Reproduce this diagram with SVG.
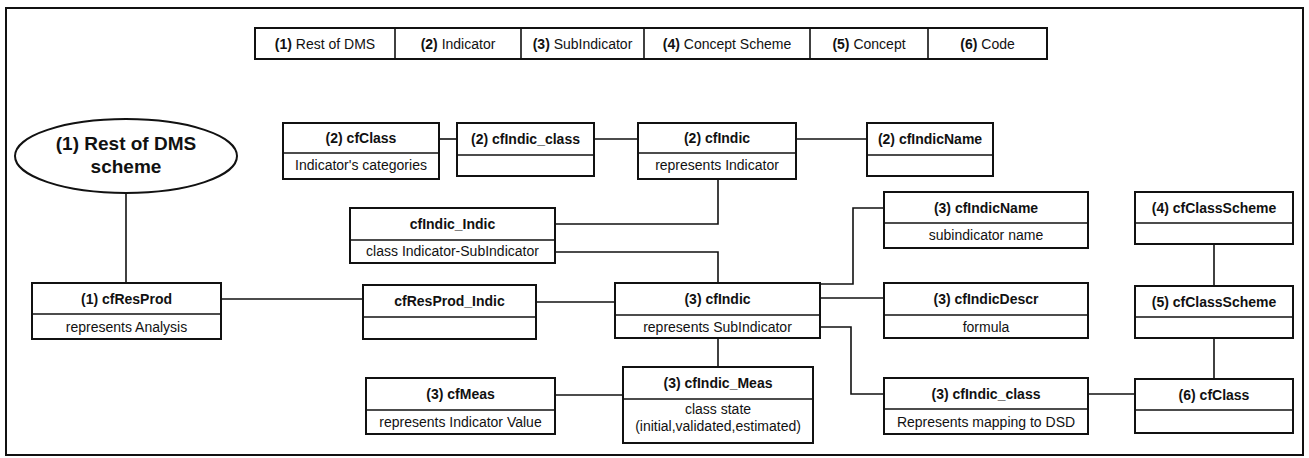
<svg xmlns="http://www.w3.org/2000/svg" width="1309" height="458" viewBox="0 0 1309 458">
<style>
text{font-family:"Liberation Sans",Arial,sans-serif;fill:#111;}
.box{fill:#fff;stroke:#111;stroke-width:2;}
.div{stroke:#111;stroke-width:1.6;}
.t{font-size:14px;font-weight:bold;text-anchor:middle;dominant-baseline:central;}
.b{font-size:14px;text-anchor:middle;dominant-baseline:central;}
.lg{font-size:14px;text-anchor:middle;dominant-baseline:central;}
.c{fill:none;stroke:#111;stroke-width:1.6;}
</style>
<rect x="6" y="8" width="1297" height="447" fill="#fff" stroke="#111" stroke-width="2"/>
<g id="legend">
<rect class="box" x="255" y="28" width="792" height="31"/>
<line class="div" x1="395" y1="28" x2="395" y2="59"/>
<line class="div" x1="521" y1="28" x2="521" y2="59"/>
<line class="div" x1="644" y1="28" x2="644" y2="59"/>
<line class="div" x1="810" y1="28" x2="810" y2="59"/>
<line class="div" x1="928" y1="28" x2="928" y2="59"/>
<text class="lg" x="325" y="44"><tspan font-weight="bold">(1)</tspan> Rest of DMS</text>
<text class="lg" x="458" y="44"><tspan font-weight="bold">(2)</tspan> Indicator</text>
<text class="lg" x="582.5" y="44"><tspan font-weight="bold">(3)</tspan> SubIndicator</text>
<text class="lg" x="727" y="44"><tspan font-weight="bold">(4)</tspan> Concept Scheme</text>
<text class="lg" x="869" y="44"><tspan font-weight="bold">(5)</tspan> Concept</text>
<text class="lg" x="987.5" y="44"><tspan font-weight="bold">(6)</tspan> Code</text>
</g>
<g id="connectors">
<path class="c" d="M126,193 V283"/>
<path class="c" d="M221,299 H363"/>
<path class="c" d="M536,302 H615"/>
<path class="c" d="M439,139 H457"/>
<path class="c" d="M594,139 H638"/>
<path class="c" d="M796,139 H867"/>
<path class="c" d="M718,179 V224 H555"/>
<path class="c" d="M555,252 H718 V283"/>
<path class="c" d="M820,284 H853 V208 H884"/>
<path class="c" d="M820,298 H884"/>
<path class="c" d="M820,327 H851 V394 H884"/>
<path class="c" d="M718,338 V367"/>
<path class="c" d="M555,395 H623"/>
<path class="c" d="M1088,394 H1135"/>
<path class="c" d="M1214,244 V286"/>
<path class="c" d="M1214,338 V379"/>
</g>
<g id="restOfDMS">
<ellipse class="box" cx="126" cy="156" rx="111" ry="37"/>
<text x="126" y="143" font-size="19" font-weight="bold" text-anchor="middle" dominant-baseline="central">(1) Rest of DMS</text>
<text x="126" y="166" font-size="19" font-weight="bold" text-anchor="middle" dominant-baseline="central">scheme</text>
</g>
<g id="cfResProd">
<rect class="box" x="32" y="283" width="189" height="56"/>
<line class="div" x1="32" y1="314" x2="221" y2="314"/>
<text class="t" x="126.5" y="298.5">(1) cfResProd</text>
<text class="b" x="126.5" y="326.5">represents Analysis</text>
</g>
<g id="cfResProd_Indic">
<rect class="box" x="363" y="285" width="173" height="54"/>
<line class="div" x1="363" y1="317" x2="536" y2="317"/>
<text class="t" x="449.5" y="301">cfResProd_Indic</text>
</g>
<g id="cfIndic3">
<rect class="box" x="615" y="283" width="205" height="55"/>
<line class="div" x1="615" y1="315" x2="820" y2="315"/>
<text class="t" x="717.5" y="299">(3) cfIndic</text>
<text class="b" x="717.5" y="326.5">represents SubIndicator</text>
</g>
<g id="cfClass2">
<rect class="box" x="283" y="123" width="156" height="56"/>
<line class="div" x1="283" y1="153" x2="439" y2="153"/>
<text class="t" x="361" y="138">(2) cfClass</text>
<text class="b" x="361" y="165">Indicator's categories</text>
</g>
<g id="cfIndic_class2">
<rect class="box" x="457" y="123" width="137" height="53"/>
<line class="div" x1="457" y1="155" x2="594" y2="155"/>
<text class="t" x="525.5" y="138.5">(2) cfIndic_class</text>
</g>
<g id="cfIndic2">
<rect class="box" x="638" y="123" width="158" height="56"/>
<line class="div" x1="638" y1="153" x2="796" y2="153"/>
<text class="t" x="717" y="138">(2) cfIndic</text>
<text class="b" x="717" y="165">represents Indicator</text>
</g>
<g id="cfIndicName2">
<rect class="box" x="867" y="123" width="126" height="53"/>
<line class="div" x1="867" y1="155" x2="993" y2="155"/>
<text class="t" x="930" y="138.5">(2) cfIndicName</text>
</g>
<g id="cfIndic_Indic">
<rect class="box" x="350" y="208" width="205" height="55"/>
<line class="div" x1="350" y1="240" x2="555" y2="240"/>
<text class="t" x="452.5" y="223.5">cfIndic_Indic</text>
<text class="b" x="452.5" y="250.5">class Indicator-SubIndicator</text>
</g>
<g id="cfIndicName3">
<rect class="box" x="884" y="192" width="204" height="56"/>
<line class="div" x1="884" y1="223" x2="1088" y2="223"/>
<text class="t" x="986" y="207.5">(3) cfIndicName</text>
<text class="b" x="986" y="235">subindicator name</text>
</g>
<g id="cfIndicDescr3">
<rect class="box" x="884" y="283" width="204" height="55"/>
<line class="div" x1="884" y1="315" x2="1088" y2="315"/>
<text class="t" x="986" y="299">(3) cfIndicDescr</text>
<text class="b" x="986" y="326.5">formula</text>
</g>
<g id="cfClassScheme4">
<rect class="box" x="1135" y="192" width="158" height="52"/>
<line class="div" x1="1135" y1="223" x2="1293" y2="223"/>
<text class="t" x="1214" y="207.5">(4) cfClassScheme</text>
</g>
<g id="cfClassScheme5">
<rect class="box" x="1135" y="286" width="158" height="52"/>
<line class="div" x1="1135" y1="317" x2="1293" y2="317"/>
<text class="t" x="1214" y="301.5">(5) cfClassScheme</text>
</g>
<g id="cfClass6">
<rect class="box" x="1135" y="379" width="158" height="54"/>
<line class="div" x1="1135" y1="410" x2="1293" y2="410"/>
<text class="t" x="1214" y="394.5">(6) cfClass</text>
</g>
<g id="cfMeas3">
<rect class="box" x="366" y="378" width="189" height="56"/>
<line class="div" x1="366" y1="410" x2="555" y2="410"/>
<text class="t" x="460.5" y="394">(3) cfMeas</text>
<text class="b" x="460.5" y="422">represents Indicator Value</text>
</g>
<g id="cfIndic_Meas3">
<rect class="box" x="623" y="367" width="190" height="76"/>
<line class="div" x1="623" y1="399" x2="813" y2="399"/>
<text class="t" x="718" y="383">(3) cfIndic_Meas</text>
<text class="b" x="718" y="408.5">class state</text>
<text class="b" x="718" y="426">(initial,validated,estimated)</text>
</g>
<g id="cfIndic_class3">
<rect class="box" x="884" y="378" width="204" height="56"/>
<line class="div" x1="884" y1="409" x2="1088" y2="409"/>
<text class="t" x="986" y="394">(3) cfIndic_class</text>
<text class="b" x="986" y="421.5">Represents mapping to DSD</text>
</g>
</svg>
